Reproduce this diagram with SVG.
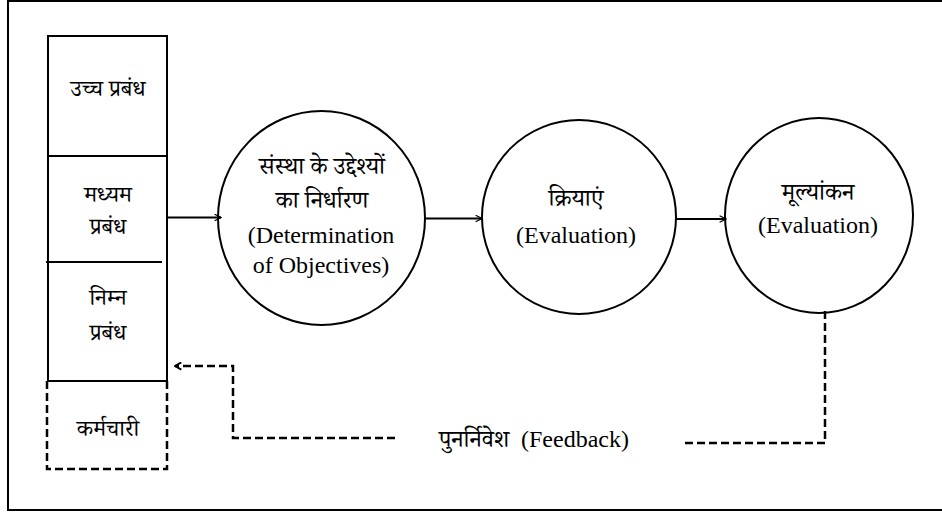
<svg xmlns="http://www.w3.org/2000/svg" width="942" height="512" viewBox="0 0 942 512">
  <style>
    .frame { fill: none; stroke: #000; stroke-width: 2; }
    .solid { fill: none; stroke: #000; stroke-width: 2; }
    .dash { fill: none; stroke: #000; stroke-width: 2.5; stroke-dasharray: 8 4; }
    .node { fill: #fff; stroke: #000; stroke-width: 2; }
    .hi { font-family: "Noto Serif Devanagari", "Noto Sans Devanagari", serif; font-size: 24px; fill: #000; text-anchor: middle; }
    .lv { font-size: 23px; }
    .en { font-family: "Liberation Serif", "Times New Roman", serif; font-size: 24px; fill: #000; text-anchor: middle; }
  </style>
  <defs>
    <marker id="tip" viewBox="0 0 10 10" refX="9" refY="5" markerWidth="8" markerHeight="8" markerUnits="userSpaceOnUse" orient="auto">
      <path d="M1,1 L9,5 L1,9" fill="none" stroke="#000" stroke-width="1.6"/>
    </marker>
    <marker id="tipBack" viewBox="0 0 10 10" refX="9" refY="5" markerWidth="9" markerHeight="9" markerUnits="userSpaceOnUse" orient="auto">
      <path d="M2,1 L9,5 L2,9" fill="none" stroke="#000" stroke-width="2.2"/>
    </marker>
  </defs>

  <rect x="8" y="1" width="940" height="509" fill="#fff" class="frame"/>

  <!-- management levels column -->
  <g id="levels">
    <rect x="48" y="36" width="119" height="345" class="solid"/>
    <line x1="48" y1="156" x2="167" y2="156" class="solid"/>
    <line x1="46" y1="262" x2="162" y2="262" class="solid"/>
    <path d="M47,381 L47,469 L167,469 L167,381" class="dash"/>
    <text class="hi lv" x="108" y="96">उच्च प्रबंध</text>
    <text class="hi lv" x="108" y="202">मध्यम</text>
    <text class="hi lv" x="108" y="234">प्रबंध</text>
    <text class="hi lv" x="108" y="305">निम्न</text>
    <text class="hi lv" x="108" y="340">प्रबंध</text>
    <text class="hi lv" x="108" y="436">कर्मचारी</text>
  </g>

  <g id="objectives">
    <ellipse cx="321.5" cy="218" rx="103.5" ry="107" class="node"/>
    <text class="hi" x="322" y="174">संस्था के उद्देश्यों</text>
    <text class="hi" x="322" y="208">का निर्धारण</text>
    <text class="en" x="321" y="243">(Determination</text>
    <text class="en" x="321" y="273">of Objectives)</text>
  </g>

  <g id="actions">
    <ellipse cx="579" cy="217" rx="97" ry="97" class="node"/>
    <text class="hi" x="576" y="206">क्रियाएं</text>
    <text class="en" x="576" y="243">(Evaluation)</text>
  </g>

  <g id="evaluation">
    <ellipse cx="819" cy="215.5" rx="94" ry="97.5" class="node"/>
    <text class="hi" x="818" y="200">मूल्यांकन</text>
    <text class="en" x="818" y="233">(Evaluation)</text>
  </g>

  <g id="feedback-label">
    <text class="hi" x="474" y="447">पुनर्निवेश</text>
    <text class="en" x="575" y="447" font-size="25">(Feedback)</text>
  </g>

  <g id="connectors">
    <line x1="167" y1="217.5" x2="221" y2="217.5" class="solid" marker-end="url(#tip)"/>
    <line x1="426" y1="218.5" x2="482" y2="218.5" class="solid" marker-end="url(#tip)"/>
    <line x1="676" y1="219" x2="726" y2="219" class="solid" marker-end="url(#tip)"/>
    <path d="M825,311 L825,443 L685,443" class="dash"/>
    <path d="M395,438 L233,438 L233,366 L175,366" class="dash" marker-end="url(#tipBack)"/>
  </g>
</svg>
